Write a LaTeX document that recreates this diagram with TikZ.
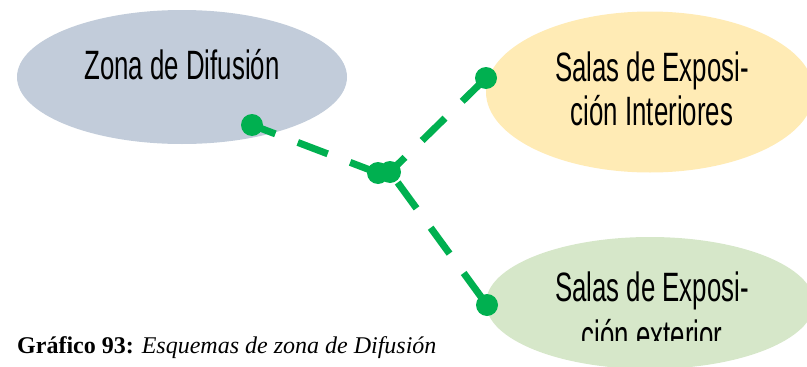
\documentclass[tikz,border=0pt]{standalone}
\usepackage{fontspec}
\usetikzlibrary{shapes.geometric}
\newfontfamily\agency[FakeStretch=0.63]{Liberation Sans}
\newfontfamily\capfont{Liberation Serif}
\definecolor{ellgray}{HTML}{C2CCDA}
\definecolor{ellyellow}{HTML}{FFEBB5}
\definecolor{ellgreen}{HTML}{D6E7C9}
\definecolor{lgreen}{HTML}{00B050}
\tikzset{
  zone/.style={ellipse, draw=none, inner sep=0pt},
  lbl/.style={anchor=base, inner sep=0pt, font=\agency\fontsize{41}{44}\selectfont},
  conn/.style={draw=lgreen, line width=7pt, dash pattern=on 32pt off 24pt},
  dot/.style={circle, fill=lgreen, draw=none, inner sep=0pt, minimum size=22pt},
}
\begin{document}
\begin{tikzpicture}[x=1pt, y=-1pt]
  \useasboundingbox (0,0) rectangle (807,367);
  \clip (0,0) rectangle (807,367);
  % ellipses
  \node[zone, fill=ellgray, minimum width=330pt, minimum height=134pt] (e1) at (182,77) {};
  \node[zone, fill=ellyellow, minimum width=328pt, minimum height=161pt] (e2) at (650,92) {};
  \node[zone, fill=ellgreen, minimum width=328pt, minimum height=132pt] (e3) at (650,303) {};
  % texts
  \node[lbl] (t1) at (182,79) {Zona de Difusión};
  \node[lbl] (t2a) at (652,81) {Salas de Exposi-};
  \node[lbl] (t2b) at (652,125) {ción Interiores};
  \node[lbl] (t3a) at (652,301) {Salas de Exposi-};
  \begin{scope}
    \clip (480,230) rectangle (807,340);
    \node[lbl] (t3b) at (652,349) {ción exterior};
  \end{scope}
  % connector points
  \coordinate (p1) at (252,125);
  \coordinate (ja) at (378,173);
  \coordinate (jb) at (390,172);
  \coordinate (p2) at (486,78);
  \coordinate (p3) at (487,305);
  % connectors
  \draw[conn, dash phase=7pt] (p1) -- (ja);
  \draw[conn, dash phase=11pt] (jb) -- (p2);
  \draw[conn, dash phase=43pt] (jb) -- (p3);
  % dots
  \node[dot] (d1) at (p1) {};
  \node[dot] (dja) at (ja) {};
  \node[dot] (djb) at (jb) {};
  \node[dot] (d2) at (p2) {};
  \node[dot] (d3) at (p3) {};
  % caption
  \node[anchor=base west, inner sep=0pt, font=\capfont\fontsize{24}{28}\selectfont] (cap) at (17,353)
    {\textbf{Gráfico 93:} \textit{Esquemas de zona de Difusión}};
\end{tikzpicture}
\end{document}
